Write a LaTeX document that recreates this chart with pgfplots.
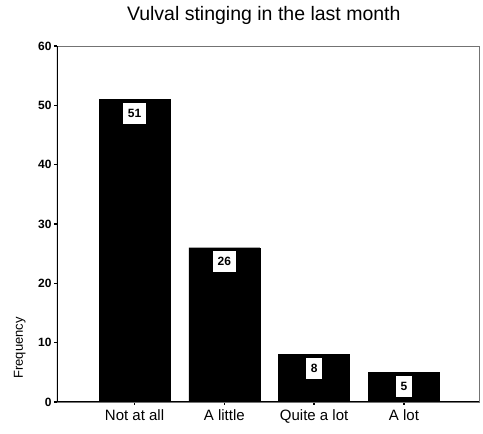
\documentclass[border=0pt]{standalone}
\usepackage{pgfplots}
\pgfplotsset{compat=1.18}
\usepackage{fontspec}
\setmainfont{Liberation Sans}
\begin{document}
\begin{tikzpicture}
\path[use as bounding box] (-57pt,-32pt) rectangle (426pt,402pt);
\begin{axis}[
  at={(0,0)}, anchor=south west,
  scale only axis, width=422pt, height=356pt,
  xmin=-0.863, xmax=3.835, ymin=0, ymax=60,
  ybar, bar width=71pt,
  xtick={0,1,2,3},
  xticklabels={Not at all, A little, Quite a lot, A lot},
  ytick={0,10,20,30,40,50,60},
  tick align=outside, major tick length=3pt,
  tick style={black, line width=1.4pt},
  xtick pos=bottom, ytick pos=left,
  xticklabel style={font=\fontsize{15}{17}\selectfont, yshift=-1pt},
  yticklabel style={font=\fontsize{12}{14}\selectfont\bfseries, xshift=1pt},
  /pgf/number format/assume math mode=true,
  axis line style={black!55, line width=0.5pt},
  title={Vulval stinging in the last month},
  title style={font=\fontsize{19.5}{22}\selectfont, at={(axis description cs:0.49,1)}, anchor=base, yshift=20pt},
  ylabel={Frequency},
  ylabel style={font=\fontsize{13}{15}\selectfont, at={(axis description cs:-0.088,0.152)}, anchor=center, rotate=0},
  nodes near coords,
  nodes near coords style={anchor=north, yshift=-3pt, fill=white, text=black, font=\fontsize{12}{14}\selectfont\bfseries, inner xsep=4.5pt, inner ysep=4pt, minimum height=21pt},
]
\addplot[fill=black, draw=black] coordinates {(0,51) (1,26) (2,8) (3,5)};
\draw[black, line width=1.1pt] (rel axis cs:0,1) -- (rel axis cs:0,0) -- (rel axis cs:1,0);
\end{axis}
\end{tikzpicture}
\end{document}
